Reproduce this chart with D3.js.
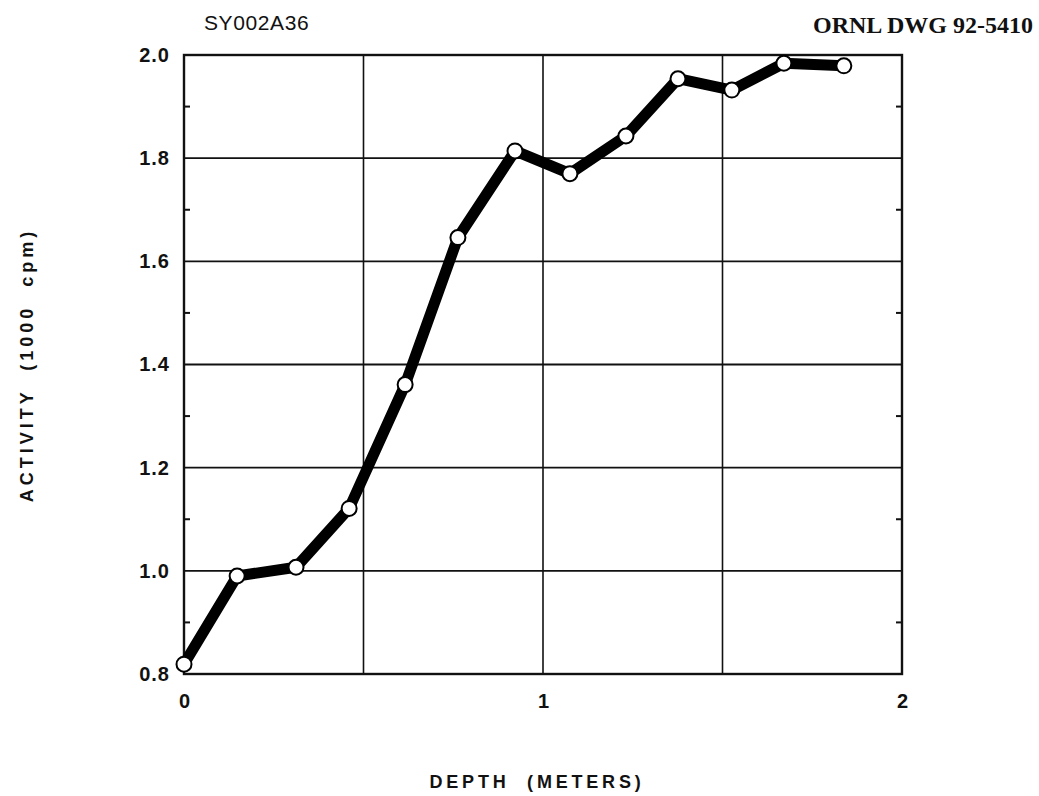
<!DOCTYPE html>
<html>
<head>
<meta charset="utf-8">
<script src="https://cdn.jsdelivr.net/npm/d3@7"></script>
<style>
  html, body { margin: 0; padding: 0; background: #fff; }
  svg { display: block; }
</style>
</head>
<body>
<svg id="chart" width="1039" height="796"></svg>
<script>
// Depth profile of measured activity
const depth    = [0.00, 0.148, 0.312, 0.460, 0.616, 0.763, 0.922, 1.075, 1.231, 1.376, 1.526, 1.671, 1.838];
const activity = [0.819, 0.990, 1.007, 1.121, 1.361, 1.646, 1.814, 1.770, 1.843, 1.954, 1.932, 1.984, 1.979];

const xTicks      = [0, 1, 2];
const xGrid       = [0.5, 1, 1.5];
const yTicks      = [0.8, 1.0, 1.2, 1.4, 1.6, 1.8, 2.0];
const yMinorTicks = [0.9, 1.1, 1.3, 1.5, 1.7, 1.9];

const svg = d3.select("#chart");
const plotL = 184, plotR = 902, plotT = 55, plotB = 674;

const x = d3.scaleLinear().domain([0, 2]).range([plotL, plotR]);
const y = d3.scaleLinear().domain([0.8, 2.0]).range([plotB, plotT]);

// grid
svg.append("g").selectAll("line").data(yTicks.slice(1, -1)).join("line")
  .attr("x1", plotL).attr("x2", plotR)
  .attr("y1", d => y(d)).attr("y2", d => y(d))
  .attr("stroke", "#111").attr("stroke-width", 1.8);
svg.append("g").selectAll("line").data(xGrid).join("line")
  .attr("x1", d => x(d)).attr("x2", d => x(d))
  .attr("y1", plotT).attr("y2", plotB)
  .attr("stroke", "#111").attr("stroke-width", 1.6);

// frame
svg.append("rect")
  .attr("x", plotL).attr("y", plotT)
  .attr("width", plotR - plotL).attr("height", plotB - plotT)
  .attr("fill", "none").attr("stroke", "#111").attr("stroke-width", 2.4);

// minor ticks on both vertical edges, pointing inward
svg.append("g").selectAll("line").data(yMinorTicks).join("line")
  .attr("x1", plotL).attr("x2", plotL + 6)
  .attr("y1", d => y(d)).attr("y2", d => y(d))
  .attr("stroke", "#111").attr("stroke-width", 2);
svg.append("g").selectAll("line").data(yMinorTicks).join("line")
  .attr("x1", plotR).attr("x2", plotR - 6)
  .attr("y1", d => y(d)).attr("y2", d => y(d))
  .attr("stroke", "#111").attr("stroke-width", 2);

// axes (labels only; the frame supplies the lines)
const labelFont = "Liberation Sans, Arial, Helvetica, sans-serif";
const yAxis = d3.axisLeft(y).tickValues(yTicks).tickFormat(d3.format(".1f")).tickSize(0).tickPadding(14);
const gy = svg.append("g").attr("transform", `translate(${plotL},0)`).call(yAxis);
gy.select(".domain").remove();
gy.selectAll("text")
  .attr("font-family", labelFont)
  .attr("font-weight", "bold").attr("font-size", 20).attr("letter-spacing", 1).attr("fill", "#111");

const xAxis = d3.axisBottom(x).tickValues(xTicks).tickFormat(d3.format("d")).tickSize(0).tickPadding(20);
const gx = svg.append("g").attr("transform", `translate(0,${plotB})`).call(xAxis);
gx.select(".domain").remove();
gx.selectAll("text")
  .attr("font-family", labelFont)
  .attr("font-weight", "bold").attr("font-size", 20).attr("fill", "#111");

// data line
const pts = depth.map((d, i) => [d, activity[i]]);
svg.append("path")
  .datum(pts)
  .attr("d", d3.line().x(d => x(d[0])).y(d => y(d[1])))
  .attr("fill", "none").attr("stroke", "#000")
  .attr("stroke-width", 11).attr("stroke-linejoin", "round").attr("stroke-linecap", "round");

svg.append("g").selectAll("circle").data(pts).join("circle")
  .attr("cx", d => x(d[0])).attr("cy", d => y(d[1]))
  .attr("r", 7.5).attr("fill", "#fff").attr("stroke", "#000").attr("stroke-width", 2);

// axis titles
svg.append("text")
  .attr("transform", `translate(33,365) rotate(-90)`)
  .attr("text-anchor", "middle")
  .attr("font-family", labelFont)
  .attr("font-weight", "bold").attr("font-size", 18).attr("letter-spacing", 4)
  .attr("fill", "#111")
  .style("white-space", "pre")
  .text("ACTIVITY  (1000  cpm)");

svg.append("text")
  .attr("x", 537).attr("y", 788)
  .attr("text-anchor", "middle")
  .attr("font-family", labelFont)
  .attr("font-weight", "bold").attr("font-size", 18).attr("letter-spacing", 3.8)
  .attr("fill", "#111")
  .style("white-space", "pre")
  .text("DEPTH  (METERS)");

// header labels
svg.append("text")
  .attr("x", 204).attr("y", 30)
  .attr("font-family", labelFont)
  .attr("font-size", 21).attr("letter-spacing", 0.6).attr("fill", "#111")
  .text("SY002A36");

svg.append("text")
  .attr("x", 1033).attr("y", 33)
  .attr("text-anchor", "end")
  .attr("font-family", "Liberation Serif, Times New Roman, serif")
  .attr("font-weight", "bold").attr("font-size", 24).attr("fill", "#111")
  .text("ORNL DWG 92-5410");
</script>
</body>
</html>
